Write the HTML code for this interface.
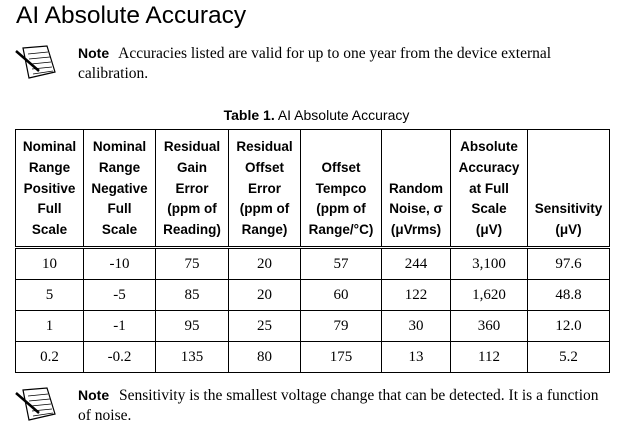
<!DOCTYPE html>
<html><head><meta charset="utf-8">
<style>
body{margin:0;width:633px;height:433px;background:#fff;position:relative;overflow:hidden;font-family:"Liberation Sans",Arial,sans-serif;color:#000}
.abs{position:absolute}
.title{left:16px;top:2px;font-size:24.5px;white-space:nowrap}
.note{left:78px;font-family:"Liberation Serif",serif;font-size:15.5px;line-height:20px}
.note b{font-family:"Liberation Sans",sans-serif;font-size:14px;margin-right:6px}
.cap{left:0;width:633px;text-align:center;top:107px;font-size:14px}
table{position:absolute;left:15px;top:129px;border-collapse:collapse;table-layout:fixed}
td{border:1px solid #000;text-align:center;padding:0;}
tr.h td{font-weight:bold;font-size:13.5px;line-height:20.8px;height:111px;vertical-align:bottom;padding-bottom:5px;border-bottom:3px double #000}
tr.r td{font-family:"Liberation Serif",serif;font-size:15px;height:30px}
</style></head><body>
<div class="abs title">AI Absolute Accuracy</div>
<svg class="abs" style="left:15px;top:44px" width="42" height="36" viewBox="0 0 42 36">
<polygon points="8,4 32,2 40,28 14,34" fill="#fff" stroke="#000" stroke-width="1.2"/>
<g stroke="#000" stroke-width="0.8"><line x1="13" y1="10" x2="33" y2="8"/><line x1="14" y1="15" x2="35" y2="13"/><line x1="16" y1="20" x2="36" y2="18"/><line x1="17" y1="25" x2="37" y2="23"/><line x1="18" y1="30" x2="38" y2="27"/></g>
<line x1="1" y1="7" x2="24" y2="27" stroke="#000" stroke-width="2.5"/>
</svg>
<div class="abs note" style="top:43px;width:500px"><b>Note</b> Accuracies listed are valid for up to one year from the device external calibration.</div>
<div class="abs cap"><b>Table 1.</b> AI Absolute Accuracy</div>
<table>
<colgroup><col style="width:68px"><col style="width:72px"><col style="width:73px"><col style="width:72px"><col style="width:81px"><col style="width:69px"><col style="width:77px"><col style="width:82px"></colgroup>
<tr class="h"><td>Nominal<br>Range<br>Positive<br>Full<br>Scale</td><td>Nominal<br>Range<br>Negative<br>Full<br>Scale</td><td>Residual<br>Gain<br>Error<br>(ppm of<br>Reading)</td><td>Residual<br>Offset<br>Error<br>(ppm of<br>Range)</td><td>Offset<br>Tempco<br>(ppm of<br>Range/°C)</td><td>Random<br>Noise, σ<br>(μVrms)</td><td>Absolute<br>Accuracy<br>at Full<br>Scale<br>(μV)</td><td>Sensitivity<br>(μV)</td></tr>
<tr class="r"><td>10</td><td>-10</td><td>75</td><td>20</td><td>57</td><td>244</td><td>3,100</td><td>97.6</td></tr>
<tr class="r"><td>5</td><td>-5</td><td>85</td><td>20</td><td>60</td><td>122</td><td>1,620</td><td>48.8</td></tr>
<tr class="r"><td>1</td><td>-1</td><td>95</td><td>25</td><td>79</td><td>30</td><td>360</td><td>12.0</td></tr>
<tr class="r"><td>0.2</td><td>-0.2</td><td>135</td><td>80</td><td>175</td><td>13</td><td>112</td><td>5.2</td></tr>
</table>
<svg class="abs" style="left:15px;top:386px" width="42" height="36" viewBox="0 0 42 36">
<polygon points="8,4 32,2 40,28 14,34" fill="#fff" stroke="#000" stroke-width="1.2"/>
<g stroke="#000" stroke-width="0.8"><line x1="13" y1="10" x2="33" y2="8"/><line x1="14" y1="15" x2="35" y2="13"/><line x1="16" y1="20" x2="36" y2="18"/><line x1="17" y1="25" x2="37" y2="23"/><line x1="18" y1="30" x2="38" y2="27"/></g>
<line x1="1" y1="7" x2="24" y2="27" stroke="#000" stroke-width="2.5"/>
</svg>
<div class="abs note" style="top:385px;width:530px"><b>Note</b> Sensitivity is the smallest voltage change that can be detected. It is a function<br>of noise.</div>
</body></html>
